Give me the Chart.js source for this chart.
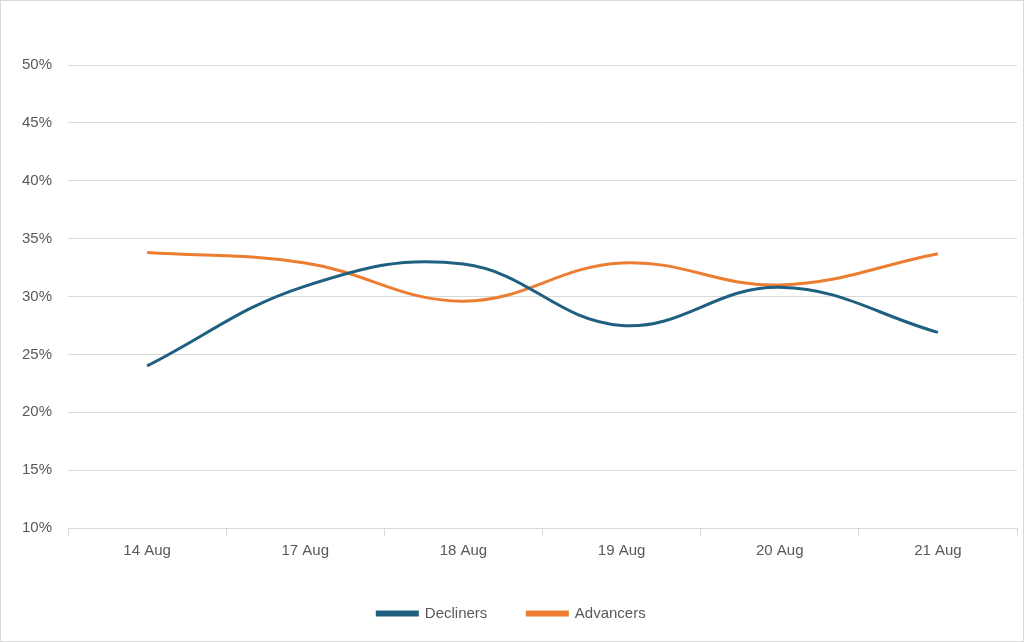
<!DOCTYPE html>
<html><head><meta charset="utf-8">
<script src="https://cdn.jsdelivr.net/npm/chart.js@4/dist/chart.umd.min.js"></script>
<style>html,body{margin:0;padding:0;background:#fff}
#wrap{position:absolute;left:0;top:0;width:1022px;height:640px;border:1px solid #d9d9d9}
</style></head><body>
<div id="wrap"><canvas id="c"></canvas></div>
<script>
const categories=["14 Aug","17 Aug","18 Aug","19 Aug","20 Aug","21 Aug"];
const decliners=[24.0,30.9,32.8,27.5,30.8,26.9];
const advancers=[33.8,32.9,29.6,32.9,31.0,33.7];
const yTicks=[10,15,20,25,30,35,40,45,50];
new Chart(document.getElementById('c'),{
type:'line',
data:{labels:categories,datasets:[
{label:'Decliners',data:decliners,borderColor:'#1f6080',backgroundColor:'#1f6080',borderWidth:3,pointRadius:0,tension:0.4},
{label:'Advancers',data:advancers,borderColor:'#ed7d31',backgroundColor:'#ed7d31',borderWidth:3,pointRadius:0,tension:0.4}
]},
options:{responsive:true,maintainAspectRatio:false,animation:false,
layout:{padding:{left:5,right:6,top:64,bottom:10}},
plugins:{legend:{position:'bottom',labels:{color:'#595959',font:{family:'Liberation Sans',size:15},boxWidth:40,boxHeight:3,padding:40}},tooltip:{enabled:false}},
scales:{
x:{offset:true,grid:{display:true,drawOnChartArea:false,color:'#d9d9d9',tickLength:8,offset:true},border:{color:'#d9d9d9'},ticks:{color:'#595959',font:{family:'Liberation Sans',size:15},padding:6}},
y:{min:10,max:50,afterBuildTicks:a=>{a.ticks=yTicks.map(v=>({value:v}))},grid:{color:'#d9d9d9',drawTicks:false},border:{display:false},ticks:{color:'#595959',font:{family:'Liberation Sans',size:15},padding:16,callback:v=>v+'%'}}
}}
});
</script></body></html>
